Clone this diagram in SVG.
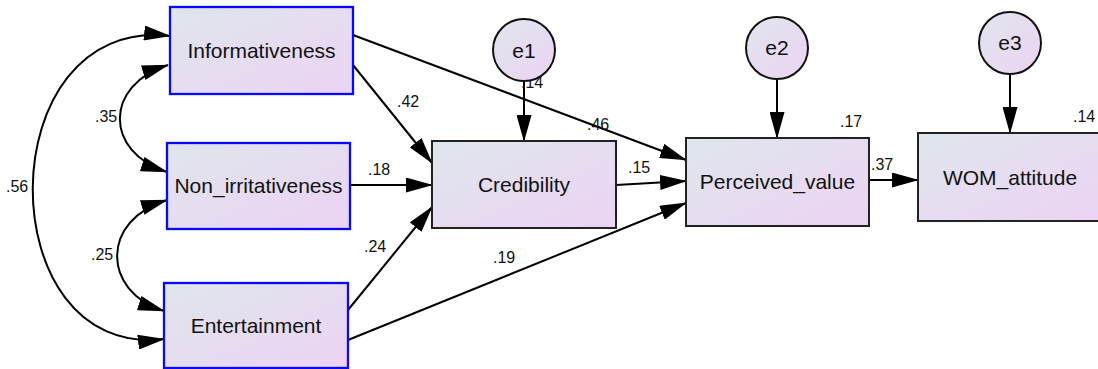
<svg xmlns="http://www.w3.org/2000/svg" width="1098" height="369" viewBox="0 0 1098 369">
<defs>
<linearGradient id="g" x1="0" y1="0" x2="1" y2="1">
<stop offset="0" stop-color="#dfe6ec"/>
<stop offset="1" stop-color="#ecd3f4"/>
</linearGradient>
<marker id="ah" markerUnits="userSpaceOnUse" markerWidth="27" markerHeight="15" viewBox="0 0 27 15" refX="26" refY="7.5" orient="auto-start-reverse">
<path d="M0,0 L27,7.5 L0,15 z" fill="#000"/>
</marker>
</defs>
<style>
.exo{fill:url(#g);stroke:#0808ff;stroke-width:2.3}
.endo{fill:url(#g);stroke:#222;stroke-width:2}
.err{fill:url(#g);stroke:#111;stroke-width:2}
.nt{font-family:"Liberation Sans",Arial,sans-serif;font-size:21px;fill:#111;text-anchor:middle}
.lb{font-family:"Liberation Sans",Arial,sans-serif;font-size:16px;fill:#111}
.c{fill:none;stroke:#000;stroke-width:2;marker-end:url(#ah)}
.cc{fill:none;stroke:#000;stroke-width:2;marker-start:url(#ah);marker-end:url(#ah)}
</style>
<g id="connectors">
<path class="cc" d="M170,36 C-12,15 -12,360 164,339"/>
<path class="cc" d="M168,65 C104,85 104,152 167,172"/>
<path class="cc" d="M167,200 C101,220 101,291 164,311"/>
<path class="c" d="M353,65 L432,163"/>
<path class="c" d="M353,35 L686,160"/>
<path class="c" d="M350,185 L432,185"/>
<path class="c" d="M348,310 L432,207"/>
<path class="c" d="M348,340 L686,203"/>
<path class="c" d="M616,185 L686,181"/>
<path class="c" d="M869,180 L918,180"/>
<path class="c" d="M524,82 L524,141"/>
<path class="c" d="M777,79 L777,138"/>
<path class="c" d="M1010,74 L1010,133"/>
</g>
<g id="labels">
<text class="lb" x="95" y="122">.35</text>
<text class="lb" x="91" y="260">.25</text>
<text class="lb" x="6" y="192">.56</text>
<text class="lb" x="397" y="107">.42</text>
<text class="lb" x="521" y="88">.14</text>
<text class="lb" x="587" y="130">.46</text>
<text class="lb" x="368" y="175">.18</text>
<text class="lb" x="628" y="173">.15</text>
<text class="lb" x="364" y="252">.24</text>
<text class="lb" x="493" y="263">.19</text>
<text class="lb" x="840" y="127">.17</text>
<text class="lb" x="871" y="170">.37</text>
<text class="lb" x="1073" y="122">.14</text>
</g>
<g id="informativeness">
<rect class="exo" x="170" y="7" width="183" height="87"/>
<text class="nt" x="261.5" y="58">Informativeness</text>
</g>
<g id="non_irritativeness">
<rect class="exo" x="167" y="143" width="183" height="86"/>
<text class="nt" x="258.5" y="193">Non_irritativeness</text>
</g>
<g id="entertainment">
<rect class="exo" x="164" y="283" width="184" height="85"/>
<text class="nt" x="256" y="333">Entertainment</text>
</g>
<g id="credibility">
<rect class="endo" x="432" y="141" width="184" height="87"/>
<text class="nt" x="524" y="192">Credibility</text>
</g>
<g id="perceived_value">
<rect class="endo" x="686" y="138" width="183" height="88"/>
<text class="nt" x="777.5" y="189">Perceived_value</text>
</g>
<g id="wom_attitude">
<rect class="endo" x="918" y="133" width="184" height="88"/>
<text class="nt" x="1010" y="185">WOM_attitude</text>
</g>
<g id="e1">
<circle class="err" cx="524" cy="50" r="31"/>
<text class="nt" x="524" y="58">e1</text>
</g>
<g id="e2">
<circle class="err" cx="777" cy="48" r="31"/>
<text class="nt" x="777" y="55">e2</text>
</g>
<g id="e3">
<circle class="err" cx="1010" cy="43" r="31"/>
<text class="nt" x="1010" y="50">e3</text>
</g>
</svg>
